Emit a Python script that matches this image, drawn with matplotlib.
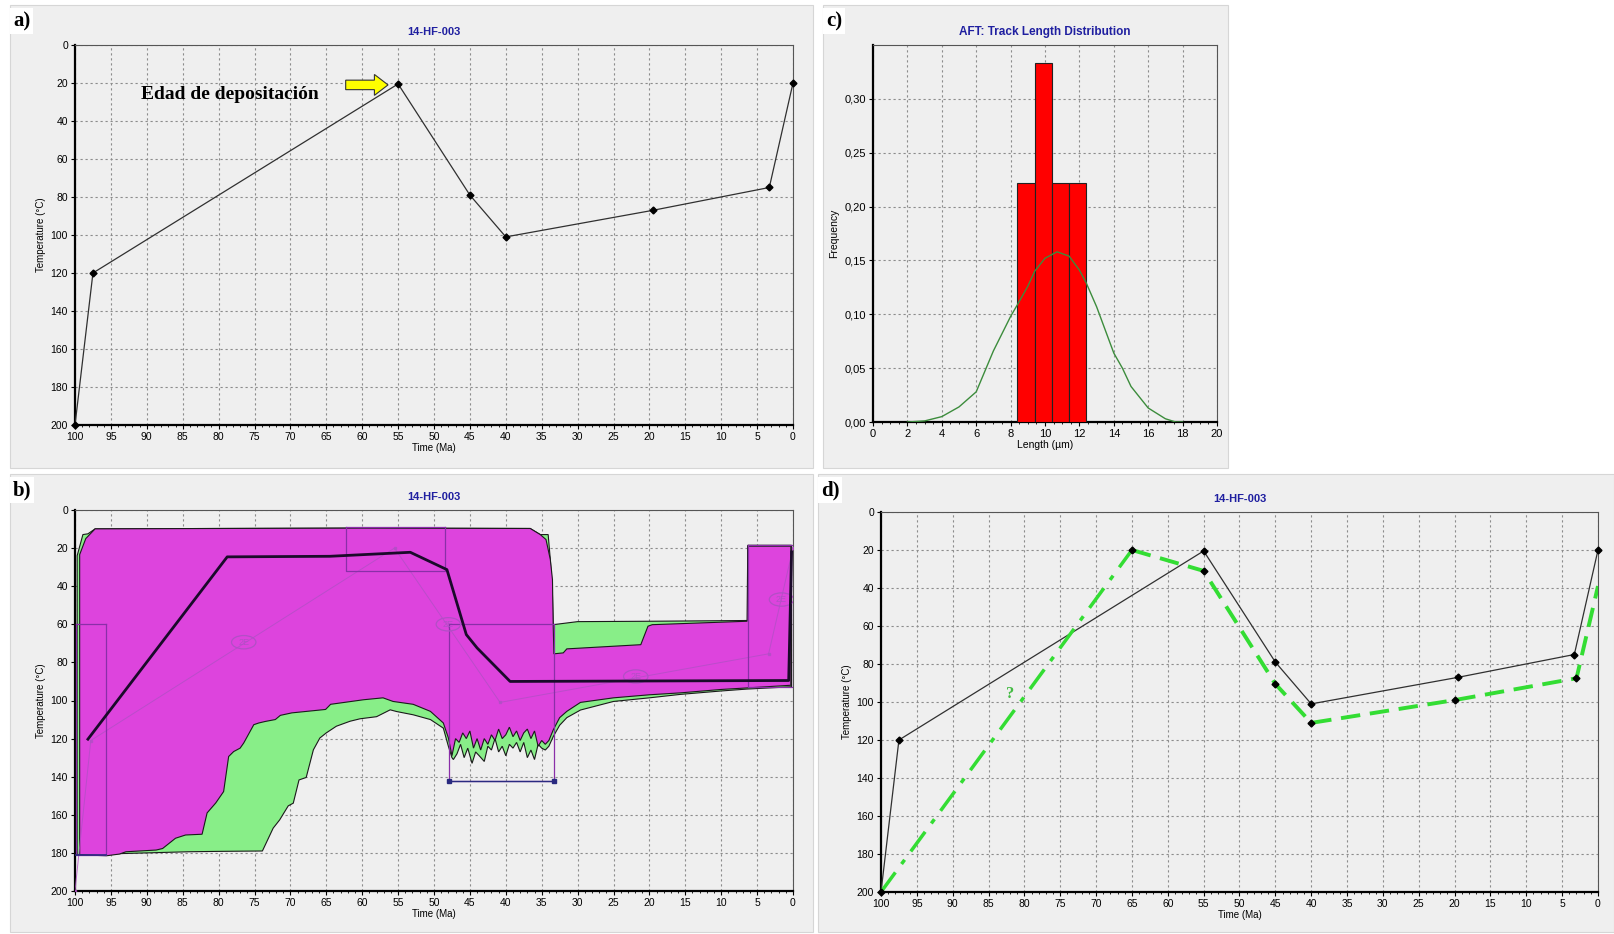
import matplotlib
matplotlib.use('Agg')
import matplotlib.pyplot as plt
from matplotlib.patches import Rectangle, FancyArrow, Ellipse
from matplotlib.ticker import MultipleLocator, FuncFormatter

W, H = 1614, 934
SAMPLE = '14-HF-003'

# --- panel a / d: input time-temperature path (Ma, degC)
path_ma = [100, 97.5, 55, 45, 40, 19.5, 3.3, 0]
path_t = [200, 120, 20.5, 79, 101, 87, 75, 20]

# --- panel d: interpreted path
interp_ma = [65, 55, 45, 40, 20, 3, 0]
interp_t = [20, 31, 90.5, 111, 99, 87.5, 39]
interp_early_ma = [100, 65]
interp_early_t = [200, 20]

# --- panel c: track length histogram + model curve
bin_left = [8.4, 9.4, 10.4, 11.4]
bin_freq = [0.222, 0.333, 0.222, 0.222]
curve_len = [2.0, 3.0, 4.0, 5.0, 6.0, 7.0, 8.0, 8.4, 9.0, 9.4, 10.0, 10.7, 11.4, 12.0,
             12.4, 13.0, 14.0, 14.5, 15.0, 16.0, 17.0, 17.6, 18.0]
curve_freq = [0.0, 0.001, 0.005, 0.014, 0.028, 0.066, 0.098, 0.109, 0.126, 0.140, 0.152,
              0.158, 0.154, 0.141, 0.129, 0.107, 0.064, 0.050, 0.033, 0.013, 0.003, 0.0, 0.0]
freq_ticks = [0.0, 0.05, 0.10, 0.15, 0.20, 0.25, 0.30]

# --- panel b: acceptable (green) envelope, upper edge then lower edge
green_top_ma = [99.7, 99.7, 98.9, 98.2, 97.2, 80, 60, 36.6, 35.2, 34.1, 33.8, 33.5, 33.4,
                30, 20, 9.4, 6.3, 6.3, 0.2, 0.2]
green_top_t = [181, 24, 12.9, 12.5, 9.9, 9.7, 9.5, 9.7, 12.9, 12.9, 26, 45, 60.2,
               58.6, 58.4, 58.1, 58, 18.5, 18.5, 92]
green_low_ma = [0.2, 6.4, 10, 15.7, 20, 25, 29.6, 31.5, 32.5, 33.4,
                34.0, 34.5, 35.0, 35.5, 36.0, 36.5, 37.0, 37.5, 38.0, 38.5, 39.0, 39.5,
                40.0, 40.5, 41.0, 41.5, 42.0, 42.5, 43.0, 43.7, 44.2, 44.7, 45.3, 45.8,
                46.3, 46.8, 47.3, 47.5, 48.0, 48.7, 50.5, 52.9, 55.2, 56.1, 58, 60.3,
                61.7, 63.6, 65, 65.9, 66.8, 67.8, 68.8, 69.6, 70.3, 71.5, 72.4, 73.9,
                80, 84.2, 90, 95, 99.7]
green_low_t = [92.8, 94, 95, 96.8, 98.6, 100.5, 105, 109, 113, 119,
               124, 126, 125, 123, 131, 126, 130, 122, 127, 122, 125, 123,
               129, 124, 127, 120, 126, 124, 132, 129, 127, 133, 125, 130,
               123, 128, 131, 130, 124, 114.5, 110, 107.5, 105.8, 104.9, 108.5, 109.6,
               110.9, 113.5, 117, 119.7, 125.9, 140.4, 141.7, 153.9, 155.3, 162.7, 167, 179,
               179.2, 179.4, 180, 180.5, 181]

# --- panel b: good (magenta) envelope
good_top_ma = [99.35, 99.35, 98.5, 97.2, 80, 60, 36.6, 35.2, 34.4, 33.8, 33.5, 33.4, 33.3,
               32, 31.5, 21.2, 20.2, 19.6, 6.4, 6.3, 0.3, 0.3]
good_top_t = [181, 23.4, 15, 9.9, 9.7, 9.5, 9.7, 12.9, 15.5, 26, 36.5, 60, 75.5,
              75, 72.9, 70.7, 61, 60.2, 58.4, 19, 19, 92]
good_low_ma = [0.3, 6.4, 10, 15.7, 20, 25, 29.6, 31.5, 32.5, 33.4,
               34.0, 34.5, 35.0, 35.5, 36.0, 36.5, 37.0, 37.5, 38.0, 38.5, 39.0, 39.5,
               40.0, 40.5, 41.0, 41.5, 42.0, 42.5, 43.0, 43.5, 44.0, 44.5, 45.0, 45.5,
               46.0, 46.5, 47.0, 47.5, 48.0, 48.7, 50.5, 52.9, 55.7, 57.1, 59.8, 64.4,
               65.1, 69.8, 71.4, 72.1, 73.5, 74.4, 75.1, 76.5, 77.0, 77.9, 78.6, 79.3,
               80.4, 81.6, 82.3, 84.6, 86.0, 87.8, 88.7, 92.9, 93.8, 95.6, 99.35]
good_low_t = [92, 93.4, 94.2, 96, 97, 98.6, 101, 105.7, 109, 115.5,
              121, 123, 121, 124, 116, 120, 115, 117, 121, 116, 119, 114,
              118, 120, 115, 121, 118, 123, 120, 126, 120, 125, 116, 120,
              117, 122, 120, 129, 119.6, 111.8, 105.7, 102, 100.5, 98.6, 99.6, 102,
              104.7, 106.5, 107.8, 110, 111, 111.8, 112.7, 122.3, 125, 126.8, 129.4, 147.8,
              153.8, 159, 170.2, 170.6, 172.3, 177.7, 178.5, 179.4, 180.6, 181.5, 181]

# --- panel b: best-fit path and constraint boxes
best_ma = [98.2, 78.8, 64.5, 53.3, 48.2, 45.5, 44.0, 39.4, 0.6, 0.2]
best_t = [120.3, 24.6, 24.3, 22.2, 31.3, 65.4, 72.4, 90, 89.5, 22]
model_ma = [100, 97.8, 55.5, 40.8, 3.4, 0]
model_t = [200, 121, 20, 101, 75.5, 20]
label_2e_ma = [76.5, 48, 21.9, 1.6]
label_2e_t = [69.4, 60, 87.4, 47]
box_ma = [(99.8, 95.7), (62.2, 48.4), (47.9, 33.3), (6.2, 0.0)]
box_t = [(60, 181), (9, 32), (60, 142), (18.5, 93)]

BG = '#efefef'
TITLE_BLUE = '#1f1fa0'
MAGENTA = '#dd44dd'
LIGHTGREEN = '#88ee88'
BRIGHTGREEN = '#33dd33'
FAINT = '#b24fc6'

plt.rcParams['font.family'] = ['Liberation Sans', 'DejaVu Sans']

fig = plt.figure(figsize=(W / 100, H / 100), dpi=100)
fig.patch.set_facecolor('white')


def px_axes(left, top, right, bottom):
    return fig.add_axes([left / W, 1 - bottom / H, (right - left) / W, (bottom - top) / H])


def panel_bg(x0, y0, x1, y1, label):
    fig.add_artist(Rectangle((x0 / W, 1 - y1 / H), (x1 - x0) / W, (y1 - y0) / H,
                             transform=fig.transFigure, facecolor=BG, edgecolor='#d6d6d6',
                             linewidth=0.8, zorder=0))
    fig.text((x0 + 3) / W, 1 - (y0 + 16) / H, label, fontsize=15, fontweight='bold',
             family='Liberation Serif', va='center', ha='left',
             bbox=dict(facecolor='white', edgecolor='none', pad=2))


def style_spines(ax):
    for side in ['left', 'bottom']:
        ax.spines[side].set_linewidth(1.6)
        ax.spines[side].set_color('black')
    for side in ['top', 'right']:
        ax.spines[side].set_linewidth(0.8)
        ax.spines[side].set_color('#555555')


def temp_axes(ax):
    ax.set_facecolor(BG)
    ax.set_xlim(100, 0)
    ax.set_ylim(200, 0)
    ax.xaxis.set_major_locator(MultipleLocator(5))
    ax.xaxis.set_minor_locator(MultipleLocator(1))
    ax.yaxis.set_major_locator(MultipleLocator(20))
    ax.grid(True, which='major', color='#8c8c8c', linestyle=(0, (2, 2.5)), linewidth=0.8)
    ax.set_axisbelow(True)
    ax.tick_params(labelsize=7.5, length=3, width=0.8, pad=2)
    ax.tick_params(which='minor', length=1.5, width=0.6)
    ax.set_xlabel('Time (Ma)', fontsize=7, labelpad=1)
    ax.set_ylabel('Temperature (°C)', fontsize=7, labelpad=3)
    ax.set_title(SAMPLE, fontsize=8, fontweight='bold', color=TITLE_BLUE, pad=7)
    style_spines(ax)


panel_bg(10, 5, 813, 468, 'a)')
panel_bg(823, 5, 1228, 468, 'c)')
panel_bg(10, 474, 813, 932, 'b)')
panel_bg(818, 474, 1614, 932, 'd)')

# ---------------- a)
ax_a = px_axes(75, 45, 793, 425)
temp_axes(ax_a)
ax_a.plot(path_ma, path_t, color='#303030', linewidth=0.9, marker='D', markersize=3.5,
          markerfacecolor='black', markeredgecolor='black', clip_on=False, zorder=3)
ax_a.text(90.8, 26, 'Edad de depositación', fontsize=14, fontweight='bold',
          family='Liberation Serif', va='center', ha='left')
arrow_start, arrow_len, arrow_t = 62.3, 5.9, 21
ax_a.add_patch(FancyArrow(arrow_start, arrow_t, -arrow_len, 0, width=5, head_width=11,
                          head_length=1.9, length_includes_head=True,
                          facecolor='#ffff00', edgecolor='#333333', linewidth=0.8, zorder=4))

# ---------------- b)
ax_b = px_axes(75, 510, 793, 891)
temp_axes(ax_b)
ax_b.fill(green_top_ma + green_low_ma, green_top_t + green_low_t, facecolor=LIGHTGREEN,
          edgecolor='#1a1a1a', linewidth=0.8, zorder=2)
ax_b.fill(good_top_ma + good_low_ma, good_top_t + good_low_t, facecolor=MAGENTA,
          edgecolor='#1a1a1a', linewidth=0.8, zorder=3)
ax_b.plot(model_ma, model_t, color=FAINT, linewidth=0.7, marker='s', markersize=2,
          alpha=0.8, zorder=4)
for bx, bt in zip(box_ma, box_t):
    ax_b.plot([bx[0], bx[0], bx[1], bx[1]], [bt[0], bt[1], bt[1], bt[0]],
              color='#8a2fa8', linewidth=0.9, zorder=4)
    ax_b.plot([bx[0], bx[1]], [bt[0], bt[0]], color='#8a2fa8', linewidth=0.9, zorder=4)
ax_b.plot([box_ma[2][0], box_ma[2][1]], [box_t[2][1], box_t[2][1]], color='#2a2a80',
          linewidth=1.0, marker='s', markersize=2.5, zorder=5)
ax_b.plot([box_ma[0][0], box_ma[0][1]], [box_t[0][1], box_t[0][1]], color='#2a2a80',
          linewidth=1.2, zorder=5)
ax_b.plot(best_ma, best_t, color='#1a0a2a', linewidth=2.0, zorder=6)
for lx, lt in zip(label_2e_ma, label_2e_t):
    ax_b.add_patch(Ellipse((lx, lt), 3.4, 7, facecolor='none', edgecolor=FAINT,
                           linewidth=0.9, zorder=5))
    ax_b.text(lx, lt, '2E', fontsize=6.5, color=FAINT, ha='center', va='center', zorder=5)

# ---------------- c)
ax_c = px_axes(873, 45, 1217, 422)
ax_c.set_facecolor(BG)
ax_c.bar(bin_left, bin_freq, width=1.0, align='edge', color='#ff0000', edgecolor='#222222',
         linewidth=0.8, zorder=3)
ax_c.plot(curve_len, curve_freq, color='#3c8c3c', linewidth=1.0, zorder=4)
ax_c.set_xlim(0, 20)
ax_c.set_ylim(0, 0.35)
ax_c.xaxis.set_major_locator(MultipleLocator(2))
ax_c.xaxis.set_minor_locator(MultipleLocator(0.5))
ax_c.set_yticks(freq_ticks)
ax_c.yaxis.set_major_formatter(FuncFormatter(lambda v, p: f'{v:.2f}'.replace('.', ',')))
ax_c.grid(True, which='major', color='#8c8c8c', linestyle=(0, (2, 2.5)), linewidth=0.8)
ax_c.set_axisbelow(True)
ax_c.tick_params(labelsize=8, length=3, width=0.8, pad=2)
ax_c.tick_params(which='minor', length=1.5, width=0.6)
ax_c.set_xlabel('Length (µm)', fontsize=7.5, labelpad=1)
ax_c.set_ylabel('Frequency', fontsize=7.5, labelpad=4)
ax_c.set_title('AFT: Track Length Distribution', fontsize=8.5, fontweight='bold',
               color=TITLE_BLUE, pad=7)
style_spines(ax_c)

# ---------------- d)
ax_d = px_axes(881, 512, 1598, 892)
temp_axes(ax_d)
ax_d.plot(path_ma, path_t, color='#303030', linewidth=0.9, zorder=3, clip_on=False)
ax_d.plot(interp_ma, interp_t, color=BRIGHTGREEN, linewidth=2.8, linestyle=(0, (5, 2.5)),
          zorder=4)
ax_d.plot(interp_early_ma, interp_early_t, color=BRIGHTGREEN, linewidth=2.5,
          linestyle=(0, (7, 3, 1.5, 3)), zorder=4)
ax_d.plot(path_ma, path_t, linestyle='none', marker='D', markersize=3.5, color='black',
          zorder=5, clip_on=False)
ax_d.plot(interp_ma[:-1], interp_t[:-1], linestyle='none', marker='D', markersize=3.5,
          color='black', zorder=5)
ax_d.text(82, 96, '?', fontsize=12, fontweight='bold', color='#44bb44',
          family='Liberation Serif', ha='center', va='center', zorder=6)

fig.savefig('out.png', dpi=100, facecolor='white')
